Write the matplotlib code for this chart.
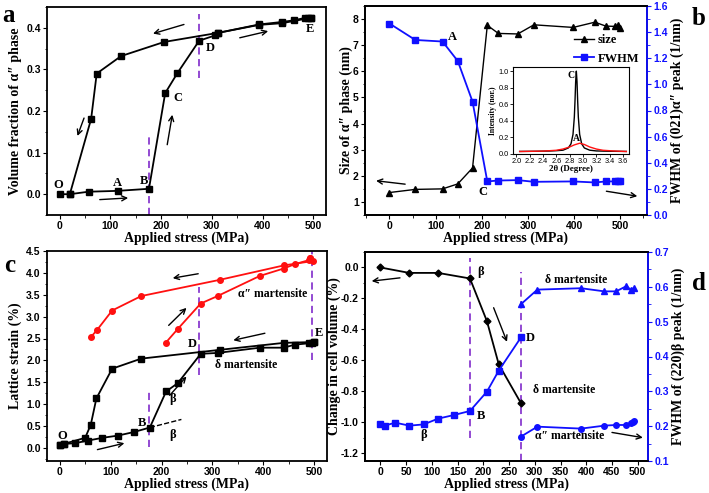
import matplotlib
matplotlib.use("Agg")
import matplotlib.pyplot as plt
from matplotlib.ticker import MultipleLocator, FormatStrFormatter

plt.rcParams["font.family"] = ["Liberation Serif", "DejaVu Serif"]
plt.rcParams["font.weight"] = "bold"
plt.rcParams["axes.labelweight"] = "bold"
plt.rcParams["axes.linewidth"] = 1.3
plt.rcParams["xtick.labelsize"] = 7.5
plt.rcParams["ytick.labelsize"] = 7.5
plt.rcParams["xtick.direction"] = "out"
plt.rcParams["ytick.direction"] = "out"
plt.rcParams["xtick.major.size"] = 3
plt.rcParams["ytick.major.size"] = 3
plt.rcParams["xtick.minor.size"] = 1.8
plt.rcParams["ytick.minor.size"] = 1.8
plt.rcParams["xtick.major.pad"] = 1.5
plt.rcParams["ytick.major.pad"] = 1.5

BLUE = "#1010ff"
RED = "#ff1010"
PURPLE = "#8a3ccf"
TICKFONT = ["Liberation Sans", "DejaVu Sans"]

# ---- panel a: volume fraction of alpha'' ----
a_load_x = [0, 20, 57, 114, 176, 208, 232, 275, 307, 313, 393, 438, 462, 484, 490, 495]
a_load_y = [0.0, 0.0, 0.006, 0.008, 0.013, 0.243, 0.291, 0.369, 0.382, 0.388, 0.408,
            0.414, 0.418, 0.424, 0.424, 0.424]
a_unload_x = [495, 438, 393, 313, 206, 121, 73, 62, 20]
a_unload_y = [0.424, 0.411, 0.407, 0.388, 0.366, 0.332, 0.290, 0.181, 0.0]

# ---- panel b: size and FWHM ----
b_x = [0, 56, 115, 148, 180, 212, 236, 278, 313, 398, 445, 469, 489, 495, 500]
b_size = [1.36, 1.48, 1.50, 1.69, 2.30, 7.76, 7.45, 7.43, 7.78, 7.68, 7.88, 7.73, 7.72, 7.77, 7.64]
b_fwhm = [1.466, 1.34, 1.328, 1.179, 0.868, 0.257, 0.264, 0.267, 0.254, 0.257, 0.249,
          0.257, 0.257, 0.26, 0.26]

# inset peaks
ins_c_x = [2.05, 2.3, 2.5, 2.6, 2.7, 2.78, 2.82, 2.85, 2.87, 2.88, 2.89, 2.90, 2.91, 2.92,
           2.93, 2.95, 2.98, 3.02, 3.1, 3.2, 3.4, 3.65]
ins_c_y = [0.031, 0.033, 0.036, 0.04, 0.046, 0.073, 0.123, 0.236, 0.446, 0.64, 0.875, 1.0,
           0.875, 0.64, 0.446, 0.236, 0.123, 0.073, 0.046, 0.037, 0.033, 0.031]
ins_a_x = [2.05, 2.4, 2.6, 2.7, 2.8, 2.87, 2.95, 3.02, 3.1, 3.2, 3.3, 3.45, 3.65]
ins_a_y = [0.03, 0.035, 0.045, 0.06, 0.085, 0.11, 0.13, 0.115, 0.085, 0.06, 0.045, 0.037, 0.03]

# ---- panel c: lattice strain ----
c_blk_load_x = [0, 8, 30, 56, 84, 114, 145, 177, 209, 232, 277, 310, 393, 440, 462, 489, 495, 500]
c_blk_load_y = [0.076, 0.09, 0.107, 0.168, 0.23, 0.28, 0.36, 0.465, 1.29, 1.48, 2.15, 2.17,
                2.29, 2.29, 2.36, 2.39, 2.40, 2.42]
c_blk_unload_x = [500, 440, 314, 160, 103, 72, 61, 50, 8, 0]
c_blk_unload_y = [2.42, 2.40, 2.24, 2.04, 1.81, 1.13, 0.53, 0.23, 0.09, 0.076]
c_red_load_x = [208, 232, 277, 310, 393, 440, 462, 489, 492]
c_red_load_y = [2.40, 2.72, 3.30, 3.47, 3.93, 4.10, 4.20, 4.29, 4.33]
c_red_unload_x = [492, 497, 440, 314, 160, 103, 73, 61]
c_red_unload_y = [4.33, 4.27, 4.17, 3.84, 3.47, 3.14, 2.69, 2.53]
c_ext_x = [177, 239]
c_ext_y = [0.465, 0.65]

# ---- panel d: cell volume and FWHM of (220)beta ----
d_vol_x = [0, 56, 112, 174, 207, 230, 273]
d_vol = [0.0, -0.035, -0.035, -0.071, -0.347, -0.626, -0.876]
d_beta_x = [0, 8, 29, 56, 84, 112, 143, 174, 207, 230, 273]
d_beta = [0.205, 0.2015, 0.21, 0.2015, 0.205, 0.2216, 0.232, 0.2436, 0.2992, 0.3596, 0.4546]
d_alpha_x = [273, 305, 390, 435, 458, 478, 486, 490, 492]
d_alpha = [0.17, 0.1986, 0.193, 0.2015, 0.2034, 0.2034, 0.208, 0.213, 0.216]
d_delta_x = [273, 305, 390, 435, 458, 478, 486, 492]
d_delta = [0.55, 0.592, 0.596, 0.587, 0.587, 0.602, 0.592, 0.596]


def arrow(ax, tail, head):
    ax.annotate("", xy=head, xytext=tail,
                arrowprops=dict(arrowstyle="->", lw=1.0, color="black",
                                shrinkA=0, shrinkB=0, mutation_scale=9))


def vdash(ax, x, y0, y1):
    ax.plot([x, x], [y0, y1], color=PURPLE, ls=(0, (4, 2.5)), lw=1.3, zorder=1)


def label(ax, x, y, s, size=9, **kw):
    ax.text(x, y, s, fontsize=size, fontweight="bold", **kw)


def sans_ticks(*axes):
    for a in axes:
        for t in a.get_xticklabels() + a.get_yticklabels():
            t.set_fontfamily(TICKFONT)


fig = plt.figure(figsize=(7.09, 4.93), dpi=100)
W, H = 709, 493


def box(l, t, r, b):
    return [l / W, 1 - b / H, (r - l) / W, (b - t) / H]


# ---------- a ----------
ax = fig.add_axes(box(47, 7, 326, 215))
ax.plot(a_load_x, a_load_y, "-s", color="black", ms=4, lw=1.3)
ax.plot(a_unload_x, a_unload_y, "-s", color="black", ms=4, lw=1.3)
vdash(ax, 176, -0.05, 0.14)
vdash(ax, 274, 0.28, 0.432)
ax.set_xlim(-25, 525)
ax.set_ylim(-0.05, 0.45)
ax.xaxis.set_major_locator(MultipleLocator(100))
ax.xaxis.set_minor_locator(MultipleLocator(50))
ax.yaxis.set_major_locator(MultipleLocator(0.1))
ax.yaxis.set_minor_locator(MultipleLocator(0.05))
ax.yaxis.set_major_formatter(FormatStrFormatter("%.1f"))
ax.set_xlabel("Applied stress (MPa)", fontsize=10, labelpad=0)
ax.set_ylabel("Volume fraction of α″ phase", fontsize=10, labelpad=3)
for x, y, s in [(-12, 0.015, "O"), (104, 0.02, "A"), (158, 0.025, "B"),
                (225, 0.225, "C"), (289, 0.345, "D"), (485, 0.39, "E")]:
    label(ax, x, y, s)
arrow(ax, (79, -0.013), (135, -0.009))
arrow(ax, (48, 0.183), (35, 0.14))
arrow(ax, (212, 0.119), (222, 0.191))
arrow(ax, (245, 0.408), (184, 0.386))
arrow(ax, (355, 0.376), (411, 0.392))
sans_ticks(ax)
fig.text(2 / W, 1 - 22 / H, "a", fontsize=18, fontweight="bold")

# ---------- b ----------
ax = fig.add_axes(box(365, 6, 647, 215))
ax2 = ax.twinx()
ls, = ax.plot(b_x, b_size, "-^", color="black", ms=4.5, lw=1.0, label="size")
lf, = ax2.plot(b_x, b_fwhm, "-s", color=BLUE, ms=4, lw=1.3, label="FWHM")
ax.set_xlim(-53, 558)
ax.set_ylim(0.5, 8.5)
ax2.set_ylim(0, 1.6)
ax.xaxis.set_major_locator(MultipleLocator(100))
ax.xaxis.set_minor_locator(MultipleLocator(50))
ax.yaxis.set_major_locator(MultipleLocator(1))
ax.yaxis.set_minor_locator(MultipleLocator(0.5))
ax2.yaxis.set_major_locator(MultipleLocator(0.2))
ax2.yaxis.set_minor_locator(MultipleLocator(0.1))
ax2.yaxis.set_major_formatter(FormatStrFormatter("%.1f"))
ax2.spines["right"].set_color(BLUE)
ax2.tick_params(axis="y", colors=BLUE, which="both")
ax.set_xlabel("Applied stress (MPa)", fontsize=10, labelpad=0)
ax.set_ylabel("Size of α″ phase (nm)", fontsize=10, labelpad=0)
ax2.set_ylabel("FWHM of (021)α″ peak (1/nm)", fontsize=10, color="black", labelpad=2)
label(ax2, 127, 1.34, "A")
label(ax2, 192, 0.15, "C")
arrow(ax, (34, 1.68), (-29, 1.81))
arrow(ax2, (470, 0.182), (537, 0.144))
leg = ax.legend(handles=[ls, lf], loc="upper right", bbox_to_anchor=(1.0, 0.9),
                frameon=False, fontsize=9, handlelength=1.6, handletextpad=0.3,
                borderaxespad=0.2, labelspacing=0.5)
sans_ticks(ax, ax2)
fig.text(692 / W, 1 - 25 / H, "b", fontsize=18, fontweight="bold")

# inset
axi = fig.add_axes(box(513, 67, 629, 154))
axi.plot(ins_c_x, ins_c_y, color="black", lw=1.0)
axi.plot(ins_a_x, ins_a_y, color=RED, lw=1.0)
axi.set_xlim(1.95, 3.69)
axi.set_ylim(0, 1.05)
axi.xaxis.set_major_locator(MultipleLocator(0.2))
axi.yaxis.set_major_locator(MultipleLocator(0.2))
axi.xaxis.set_major_formatter(FormatStrFormatter("%.1f"))
axi.yaxis.set_major_formatter(FormatStrFormatter("%.1f"))
axi.tick_params(labelsize=5.3, length=2, width=0.6, pad=1)
for t in axi.get_xticklabels() + axi.get_yticklabels():
    t.set_fontweight("normal")
    t.set_fontfamily(TICKFONT)
for s in axi.spines.values():
    s.set_linewidth(0.8)
axi.set_xlabel("2θ (Degree)", fontsize=6.5, labelpad=0)
axi.set_ylabel("Intensity (nor.)", fontsize=5.5, labelpad=1)
label(axi, 2.77, 0.92, "C", size=7)
label(axi, 2.85, 0.16, "A", size=7)

# ---------- c ----------
ax = fig.add_axes(box(47, 251, 327, 461))
ax.plot(c_red_load_x, c_red_load_y, "-o", color=RED, ms=4, lw=1.3)
ax.plot(c_red_unload_x, c_red_unload_y, "-o", color=RED, ms=4, lw=1.3)
ax.plot(c_blk_load_x, c_blk_load_y, "-s", color="black", ms=4, lw=1.3)
ax.plot(c_blk_unload_x, c_blk_unload_y, "-s", color="black", ms=4, lw=1.3)
ax.plot(c_ext_x, c_ext_y, "--", color="black", lw=1.0)
vdash(ax, 176, 0.015, 1.27)
vdash(ax, 274, 1.66, 3.68)
vdash(ax, 496, 2.0, 4.5)
ax.set_xlim(-25, 525)
ax.set_ylim(-0.3, 4.5)
ax.xaxis.set_major_locator(MultipleLocator(100))
ax.xaxis.set_minor_locator(MultipleLocator(50))
ax.yaxis.set_major_locator(MultipleLocator(0.5))
ax.yaxis.set_minor_locator(MultipleLocator(0.25))
ax.yaxis.set_major_formatter(FormatStrFormatter("%.1f"))
ax.set_xlabel("Applied stress (MPa)", fontsize=10, labelpad=0)
ax.set_ylabel("Lattice strain (%)", fontsize=10, labelpad=3)
for x, y, s in [(-5, 0.2, "O"), (154, 0.5, "B"), (252, 2.3, "D"), (502, 2.55, "E")]:
    label(ax, x, y, s)
label(ax, 350, 3.45, "α″ martensite", size=8.5)
label(ax, 305, 1.83, "δ martensite", size=8.5)
label(ax, 216, 1.05, "β", size=9)
label(ax, 216, 0.22, "β", size=9)
arrow(ax, (272, 3.98), (222, 3.88))
arrow(ax, (214, 2.8), (249, 3.2))
arrow(ax, (403, 2.62), (341, 2.46))
arrow(ax, (216, 1.2), (249, 1.63))
arrow(ax, (74, -0.04), (127, 0.107))
sans_ticks(ax)
fig.text(4 / W, 1 - 272 / H, "c", fontsize=18, fontweight="bold")

# ---------- d ----------
ax = fig.add_axes(box(365, 252, 648, 461))
ax2 = ax.twinx()
ax.plot(d_vol_x, d_vol, "-D", color="black", ms=3.5, lw=1.3, zorder=3)
ax2.plot(d_beta_x, d_beta, "-s", color=BLUE, ms=3.8, lw=1.3)
ax2.plot(d_alpha_x, d_alpha, "-o", color=BLUE, ms=4, lw=1.3)
ax2.plot(d_delta_x, d_delta, "-^", color=BLUE, ms=4.5, lw=1.3)
vdash(ax, 174, -1.1, 0.06)
vdash(ax, 273, -1.25, -0.03)
ax.set_xlim(-30, 520)
ax.set_ylim(-1.25, 0.1)
ax2.set_ylim(0.1, 0.7)
ax.xaxis.set_major_locator(MultipleLocator(50))
ax.yaxis.set_major_locator(MultipleLocator(0.2))
ax.yaxis.set_minor_locator(MultipleLocator(0.1))
ax.yaxis.set_major_formatter(FormatStrFormatter("%.1f"))
ax2.yaxis.set_major_locator(MultipleLocator(0.1))
ax2.yaxis.set_minor_locator(MultipleLocator(0.05))
ax2.yaxis.set_major_formatter(FormatStrFormatter("%.1f"))
ax2.spines["right"].set_color(BLUE)
ax2.tick_params(axis="y", colors=BLUE, which="both")
ax.set_xlabel("Applied stress (MPa)", fontsize=10, labelpad=0)
ax.set_ylabel("Change in cell volume (%)", fontsize=10, labelpad=0)
ax2.set_ylabel("FWHM of (220)β peak (1/nm)", fontsize=10, color="black", labelpad=2)
label(ax, 188, -0.05, "β")
label(ax2, 188, 0.22, "B")
label(ax2, 77, 0.165, "β")
label(ax2, 283, 0.445, "D")
label(ax2, 297, 0.295, "δ martensite", size=8.5)
label(ax2, 320, 0.61, "δ martensite", size=8.5)
label(ax2, 300, 0.162, "α″ martensite", size=8.5)
arrow(ax, (38, -0.067), (-17, -0.088))
arrow(ax, (220, -0.26), (246, -0.48))
arrow(ax2, (450, 0.182), (510, 0.167))
sans_ticks(ax, ax2)
fig.text(692 / W, 1 - 290 / H, "d", fontsize=18, fontweight="bold")

fig.savefig("out.png", dpi=100)
